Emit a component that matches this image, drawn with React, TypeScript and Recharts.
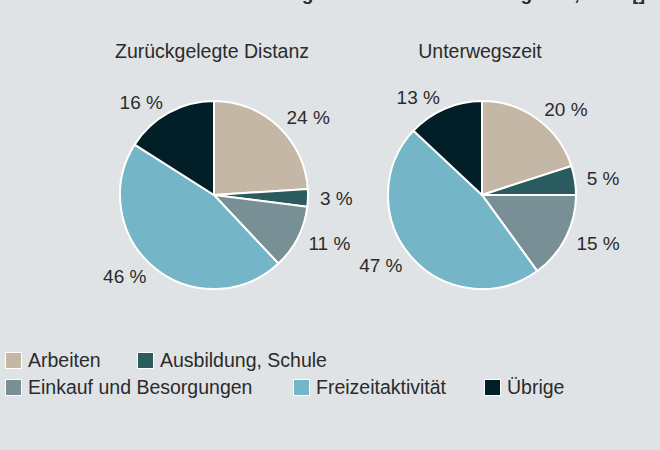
import { Cell, Pie, PieChart } from "recharts";

const CATEGORIES = ["Arbeiten", "Ausbildung, Schule", "Einkauf und Besorgungen", "Freizeitaktivität", "Übrige"];
const COLORS = ["#c4b7a6", "#2a5b5f", "#789095", "#74b6c7", "#021e26"];
const DISTANZ = [24, 3, 11, 46, 16];
const ZEIT = [20, 5, 15, 47, 13];
const TITLES = ["Zurückgelegte Distanz", "Unterwegszeit"];

const FONT = "'Liberation Sans', Arial, Helvetica, sans-serif";
const TEXT = "#2b2b2b";
const RAD = Math.PI / 180;

const toRows = (vals: number[]) => CATEGORIES.map((name, i) => ({ name, value: vals[i] }));

function OuterLabel({ cx, cy, midAngle, outerRadius, value }: any) {
  const r = outerRadius + 12;
  const x = cx + r * Math.cos(-midAngle * RAD);
  const y = cy + r * Math.sin(-midAngle * RAD);
  return (
    <text
      x={x}
      y={y}
      textAnchor={x > cx ? "start" : "end"}
      dominantBaseline="central"
      fontSize={19}
      fontFamily={FONT}
      fill={TEXT}
    >
      {value} %
    </text>
  );
}

function LegendItem({ i, width }: { i: number; width?: number }) {
  return (
    <span style={{ display: "inline-flex", alignItems: "center", width }}>
      <span
        style={{
          width: 15,
          height: 15,
          margin: 1,
          background: COLORS[i],
          boxShadow: "0 0 0 1px #fff",
          marginRight: 7,
          flex: "none",
        }}
      />
      {CATEGORIES[i]}
    </span>
  );
}

export default function App() {
  const pies = [DISTANZ, ZEIT];
  const centers = [214, 482];
  return (
    <div
      style={{
        position: "absolute",
        left: 0,
        top: 0,
        width: 660,
        height: 450,
        background: "#e0e3e6",
        overflow: "hidden",
        fontFamily: FONT,
        color: TEXT,
      }}
    >
      <div
        style={{
          position: "absolute",
          top: -17,
          left: 0,
          width: 660,
          textAlign: "center",
          fontWeight: "bold",
          fontSize: 19,
          lineHeight: "22px",
        }}
      >
        Anteile nach Verkehrszweck: Tagesdistanz und Unterwegszeit, 2015 []
      </div>
      {TITLES.map((t, i) => (
        <div
          key={t}
          style={{
            position: "absolute",
            top: 40,
            left: centers[i] - 152,
            width: 300,
            textAlign: "center",
            fontSize: 19.5,
            lineHeight: "22px",
            whiteSpace: "nowrap",
          }}
        >
          {t}
        </div>
      ))}
      <div style={{ position: "absolute", top: 0, left: 0 }}>
        <PieChart width={660} height={330} margin={{ top: 0, right: 0, bottom: 0, left: 0 }}>
          {pies.map((vals, k) => (
            <Pie
              key={k}
              data={toRows(vals)}
              dataKey="value"
              nameKey="name"
              cx={centers[k]}
              cy={195}
              outerRadius={94}
              startAngle={90}
              endAngle={-270}
              stroke="#ffffff"
              strokeWidth={2}
              label={OuterLabel}
              labelLine={false}
              isAnimationActive={false}
            >
              {vals.map((_, i) => (
                <Cell key={i} fill={COLORS[i]} />
              ))}
            </Pie>
          ))}
        </PieChart>
      </div>
      <div style={{ position: "absolute", left: 5, top: 347, fontSize: 19.5, lineHeight: "27px" }}>
        <div style={{ display: "flex" }}>
          <LegendItem i={0} width={132} />
          <LegendItem i={1} />
        </div>
        <div style={{ display: "flex" }}>
          <LegendItem i={2} width={288} />
          <LegendItem i={3} width={191} />
          <LegendItem i={4} />
        </div>
      </div>
    </div>
  );
}
